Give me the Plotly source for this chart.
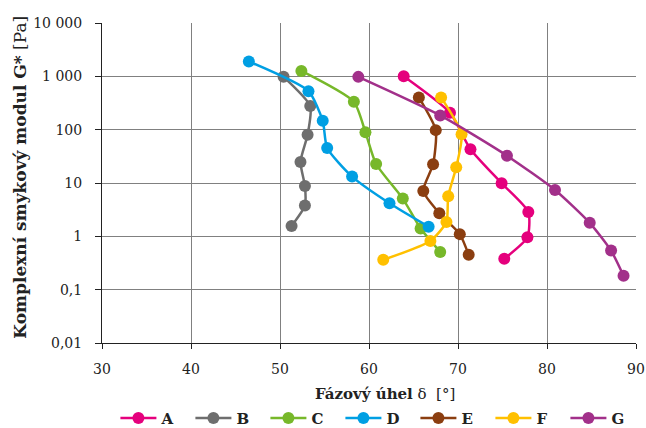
import plotly.graph_objects as go

# Phase angle δ [°] and complex shear modulus G* [Pa] for each sample
names = ["A", "B", "C", "D", "E", "F", "G"]
colors = ["#E5007D", "#6E6E6E", "#77B82A", "#009FE3", "#8B3E10", "#FFC000", "#A2308A"]

delta_A = [63.9, 69.1, 71.4, 74.9, 77.9, 77.8, 75.2]
g_A = [1000, 207, 43, 9.9, 2.87, 0.96, 0.38]

delta_B = [50.4, 53.4, 53.1, 52.3, 52.8, 52.8, 51.3]
g_B = [980, 277, 80, 24.8, 8.8, 3.77, 1.57]

delta_C = [52.4, 58.3, 59.6, 60.8, 63.8, 65.8, 68.0]
g_C = [1265, 333, 89, 22.7, 5.1, 1.40, 0.51]

delta_D = [46.5, 53.2, 54.8, 55.3, 58.1, 62.3, 66.7]
g_D = [1896, 527, 147, 45.3, 13.2, 4.18, 1.52]

delta_E = [65.6, 67.5, 67.2, 66.1, 67.9, 70.2, 71.2]
g_E = [402, 98, 22.4, 7.1, 2.72, 1.10, 0.45]

delta_F = [68.1, 70.4, 69.8, 68.9, 68.7, 66.9, 61.6]
g_F = [402, 82, 19.7, 5.65, 1.85, 0.82, 0.363]

delta_G = [58.8, 68.0, 75.5, 80.9, 84.8, 87.2, 88.6]
g_G = [977, 185, 32.5, 7.4, 1.79, 0.54, 0.182]

deltas = [delta_A, delta_B, delta_C, delta_D, delta_E, delta_F, delta_G]
moduli = [g_A, g_B, g_C, g_D, g_E, g_F, g_G]

y_tickvals = [0.01, 0.1, 1, 10, 100, 1000, 10000]
y_ticktext = ["0,01", "0,1", "1", "10", "100", "1 000", "10 000"]
x_tickvals = [30, 40, 50, 60, 70, 80, 90]

FONT = "DejaVu Serif"

fig = go.Figure()
for name, color, xs, ys in zip(names, colors, deltas, moduli):
    fig.add_trace(go.Scatter(
        x=xs, y=ys, name="<b>" + name + "</b>",
        mode="lines+markers",
        line=dict(color=color, width=2.5, shape="spline", smoothing=0.6),
        marker=dict(color=color, size=12),
    ))

fig.update_layout(
    width=646, height=428,
    margin=dict(l=102, r=10, t=23, b=85),
    plot_bgcolor="white", paper_bgcolor="white",
    font=dict(family=FONT, size=14, color="#222"),
    showlegend=True,
    legend=dict(
        orientation="h", x=0.585, xanchor="center", xref="container",
        y=0.023, yanchor="middle", yref="container",
        font=dict(family=FONT, size=15, color="#222"),
        entrywidth=24, entrywidthmode="pixels",
        itemwidth=36, tracegroupgap=0,
    ),
)

fig.update_xaxes(
    range=[30, 90], tickvals=x_tickvals, automargin=False,
    showgrid=True, gridcolor="#808080", gridwidth=1,
    showline=True, linecolor="#222", linewidth=1,
    ticks="outside", ticklen=5, tickcolor="#222", ticklabelstandoff=8,
    tickfont=dict(family=FONT, size=14, color="#222"),
    zeroline=False,
)
fig.update_yaxes(
    type="log", range=[-2, 4], tickvals=y_tickvals, ticktext=y_ticktext,
    automargin=False,
    showgrid=True, gridcolor="#808080", gridwidth=1,
    showline=True, linecolor="#222", linewidth=1,
    ticks="outside", ticklen=6, tickcolor="#222", ticklabelstandoff=10,
    tickfont=dict(family=FONT, size=14, color="#222"),
    zeroline=False,
)

# Axis titles (bold name with regular unit)
fig.add_annotation(
    text="<b>Fázový úhel</b> δ  [°]",
    xref="paper", yref="paper", x=0.53, y=-0.158,
    xanchor="center", yanchor="middle", showarrow=False,
    font=dict(family=FONT, size=15, color="#222"),
)
fig.add_annotation(
    text="<b>Komplexní smykový modul G*</b> [Pa]",
    xref="paper", yref="paper", x=-0.154, y=0.519,
    xanchor="center", yanchor="middle", showarrow=False, textangle=-90,
    font=dict(family=FONT, size=17, color="#222"),
)

fig.write_html("out.html")
